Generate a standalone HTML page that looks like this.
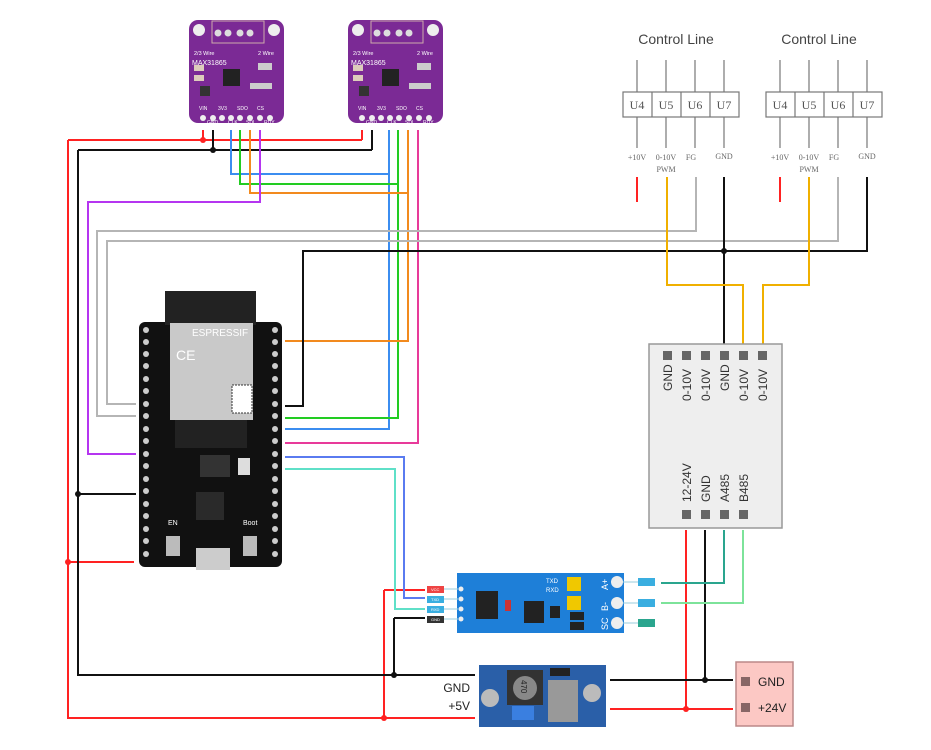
<!DOCTYPE html>
<html><head><meta charset="utf-8"><style>
html,body{margin:0;padding:0;background:#fff;}
svg{display:block;}
text{font-family:"Liberation Sans",sans-serif;}
.serif text{font-family:"Liberation Serif",serif;}
</style></head><body>
<svg width="931" height="750" viewBox="0 0 931 750" xmlns="http://www.w3.org/2000/svg">
<g fill="none" stroke-width="2">
<path d="M203 130V140M362 130V140M68 140H362M68 140V718H475M68 562H134M384 590V718M384 590H425M686 530V709M610 709H733" stroke="#f22"/>
<path d="M213 130V150M372 130V150M78 150H372M78 150V675H475M78 494H136M394 618V675M394 618H425M705 530V680M610 680H733" stroke="#111"/>
<path d="M231 130V174H389M389 130V429H285" stroke="#3b8df0"/>
<path d="M240 130V184H398M398 130V418H285" stroke="#2c2"/>
<path d="M250 130V193H408M408 130V341H285" stroke="#f28a1e"/>
<path d="M418 130V443H285" stroke="#e83a9a"/>
<path d="M260 130V202H88V454H136" stroke="#b535f0"/>
<path d="M696 177V231H97V416H136M838 177V241H107V404H136" stroke="#b5b5b5"/>
<path d="M724 177V344M867 177V251H303V406H285" stroke="#111"/>
<path d="M667 177V285H743V344M809 177V285H763V344" stroke="#f0b000"/>
<path d="M637 177V202M780 177V202" stroke="#f22"/>
<path d="M285 457H404V598H425" stroke="#5a7bf0"/>
<path d="M285 469H395V609H425" stroke="#5fe0c8"/>
<path d="M724 530V583H661" stroke="#2aa58e"/>
<path d="M743 530V603H661" stroke="#7de39a"/>
</g>
<g fill="#111">
<circle cx="203" cy="140" r="3" fill="#f22"/><circle cx="213" cy="150" r="3"/>
<circle cx="68" cy="562" r="3" fill="#f22"/><circle cx="78" cy="494" r="3"/>
<circle cx="394" cy="675" r="3"/><circle cx="384" cy="718" r="3" fill="#f22"/>
<circle cx="705" cy="680" r="3"/><circle cx="686" cy="709" r="3" fill="#f22"/>
<circle cx="724" cy="251" r="3"/>
</g>

<g stroke="#777" stroke-width="1.2" fill="none">
<path d="M637 60V92M666 60V92M695 60V92M724 60V92M637 117V148M666 117V148M695 117V148M724 117V148"/>
<rect x="623" y="92" width="116" height="25" fill="#fff"/>
<path d="M652 92V117M681 92V117M710 92V117"/>
<path d="M780 60V92M809 60V92M838 60V92M867 60V92M780 117V148M809 117V148M838 117V148M867 117V148"/>
<rect x="766" y="92" width="116" height="25" fill="#fff"/>
<path d="M795 92V117M824 92V117M853 92V117"/>
</g>
<g class="serif" fill="#555" font-size="12" text-anchor="middle">
<text x="637" y="109">U4</text><text x="666" y="109">U5</text><text x="695" y="109">U6</text><text x="724" y="109">U7</text>
<text x="780" y="109">U4</text><text x="809" y="109">U5</text><text x="838" y="109">U6</text><text x="867" y="109">U7</text>
</g>
<g class="serif" fill="#666" font-size="8" text-anchor="middle">
<text x="637" y="160">+10V</text><text x="666" y="160">0-10V</text><text x="666" y="172">PWM</text><text x="691" y="160">FG</text><text x="724" y="159">GND</text>
<text x="780" y="160">+10V</text><text x="809" y="160">0-10V</text><text x="809" y="172">PWM</text><text x="834" y="160">FG</text><text x="867" y="159">GND</text>
</g>
<text x="676" y="44" font-size="14" fill="#444" text-anchor="middle">Control Line</text>
<text x="819" y="44" font-size="14" fill="#444" text-anchor="middle">Control Line</text>

<rect x="649" y="344" width="133" height="184" fill="#eee" stroke="#999" stroke-width="1.5"/>
<g fill="#666">
<rect x="682" y="351" width="9" height="9"/><rect x="701" y="351" width="9" height="9"/><rect x="720" y="351" width="9" height="9"/><rect x="739" y="351" width="9" height="9"/><rect x="758" y="351" width="9" height="9"/><rect x="663" y="351" width="9" height="9"/>
<rect x="682" y="510" width="9" height="9"/><rect x="701" y="510" width="9" height="9"/><rect x="720" y="510" width="9" height="9"/><rect x="739" y="510" width="9" height="9"/>
</g>
<g font-size="12" fill="#333">
<text transform="translate(672,391) rotate(-90)">GND</text>
<text transform="translate(691,401) rotate(-90)">0-10V</text>
<text transform="translate(710,401) rotate(-90)">0-10V</text>
<text transform="translate(729,391) rotate(-90)">GND</text>
<text transform="translate(748,401) rotate(-90)">0-10V</text>
<text transform="translate(767,401) rotate(-90)">0-10V</text>
<text transform="translate(691,502) rotate(-90)">12-24V</text>
<text transform="translate(710,502) rotate(-90)">GND</text>
<text transform="translate(729,502) rotate(-90)">A485</text>
<text transform="translate(748,502) rotate(-90)">B485</text>
</g>

<g id="max">
<rect x="189" y="20" width="95" height="103" rx="9" fill="#7b2a95"/>
<rect x="212" y="21" width="52" height="22" fill="none" stroke="#caa" stroke-width="1"/>
<circle cx="199" cy="30" r="6" fill="#eee"/><circle cx="274" cy="30" r="6" fill="#eee"/>
<circle cx="218" cy="33" r="3.5" fill="#ddd"/><circle cx="228" cy="33" r="3.5" fill="#ddd"/><circle cx="240" cy="33" r="3.5" fill="#ddd"/><circle cx="250" cy="33" r="3.5" fill="#ddd"/>
<rect x="223" y="69" width="17" height="17" fill="#222"/>
<rect x="194" y="65" width="10" height="6" fill="#dcb"/><rect x="194" y="75" width="10" height="6" fill="#dcb"/><rect x="200" y="86" width="10" height="10" fill="#333"/>
<rect x="250" y="83" width="22" height="6" fill="#ccc"/><rect x="258" y="63" width="14" height="7" fill="#ccc"/>
<text x="192" y="65" font-size="7" fill="#fff">MAX31865</text>
<text x="194" y="55" font-size="5.5" fill="#fff">2/3 Wire</text><text x="258" y="55" font-size="5.5" fill="#fff">2 Wire</text>
<g fill="#eee"><circle cx="203" cy="118" r="3"/><circle cx="213" cy="118" r="3"/><circle cx="222" cy="118" r="3"/><circle cx="231" cy="118" r="3"/><circle cx="240" cy="118" r="3"/><circle cx="250" cy="118" r="3"/><circle cx="260" cy="118" r="3"/><circle cx="270" cy="118" r="3"/></g>
<g font-size="5" fill="#fff"><text x="199" y="110">VIN</text><text x="218" y="110">3V3</text><text x="237" y="110">SDO</text><text x="257" y="110">CS</text><text x="207" y="124">GND</text><text x="228" y="124">CLK</text><text x="246" y="124">SDI</text><text x="264" y="124">RDY</text></g>
</g>
<use href="#max" x="159"/>

<rect x="139" y="322" width="143" height="245" rx="6" fill="#111"/>
<rect x="165" y="291" width="91" height="34" fill="#222"/>
<rect x="170" y="323" width="83" height="97" fill="#c9c9c9"/>
<rect x="232" y="385" width="20" height="28" fill="#fff" stroke="#333" stroke-dasharray="2 1"/>
<text x="192" y="336" font-size="10" fill="#fff">ESPRESSIF</text>
<text x="176" y="360" font-size="14" fill="#fff">CE</text>
<rect x="175" y="420" width="72" height="28" fill="#222"/>
<g fill="#ccc">
<circle cx="146" cy="330" r="3"/><circle cx="146" cy="342" r="3"/><circle cx="146" cy="354" r="3"/><circle cx="146" cy="366" r="3"/><circle cx="146" cy="379" r="3"/><circle cx="146" cy="391" r="3"/><circle cx="146" cy="404" r="3"/><circle cx="146" cy="416" r="3"/><circle cx="146" cy="429" r="3"/><circle cx="146" cy="441" r="3"/><circle cx="146" cy="454" r="3"/><circle cx="146" cy="466" r="3"/><circle cx="146" cy="479" r="3"/><circle cx="146" cy="491" r="3"/><circle cx="146" cy="504" r="3"/><circle cx="146" cy="516" r="3"/><circle cx="146" cy="529" r="3"/><circle cx="146" cy="541" r="3"/><circle cx="146" cy="554" r="3"/>
<circle cx="275" cy="330" r="3"/><circle cx="275" cy="342" r="3"/><circle cx="275" cy="354" r="3"/><circle cx="275" cy="366" r="3"/><circle cx="275" cy="379" r="3"/><circle cx="275" cy="391" r="3"/><circle cx="275" cy="404" r="3"/><circle cx="275" cy="416" r="3"/><circle cx="275" cy="429" r="3"/><circle cx="275" cy="441" r="3"/><circle cx="275" cy="454" r="3"/><circle cx="275" cy="466" r="3"/><circle cx="275" cy="479" r="3"/><circle cx="275" cy="491" r="3"/><circle cx="275" cy="504" r="3"/><circle cx="275" cy="516" r="3"/><circle cx="275" cy="529" r="3"/><circle cx="275" cy="541" r="3"/><circle cx="275" cy="554" r="3"/>
</g>
<rect x="200" y="455" width="30" height="22" fill="#333"/><rect x="238" y="458" width="12" height="17" fill="#ddd"/>
<rect x="196" y="492" width="28" height="28" fill="#2a2a2a"/>
<rect x="166" y="536" width="14" height="20" fill="#bbb"/><rect x="243" y="536" width="14" height="20" fill="#bbb"/>
<rect x="196" y="548" width="34" height="22" fill="#ccc"/>
<text x="243" y="525" font-size="7" fill="#fff">Boot</text><text x="168" y="525" font-size="7" fill="#fff">EN</text>

<rect x="457" y="573" width="167" height="60" fill="#1e7fd8"/>
<rect x="476" y="591" width="22" height="28" fill="#222"/><rect x="524" y="601" width="20" height="22" fill="#222"/>
<rect x="505" y="600" width="6" height="11" fill="#c33"/>
<rect x="567" y="577" width="14" height="14" fill="#f0c800"/><rect x="567" y="596" width="14" height="14" fill="#f0c800"/>
<rect x="570" y="612" width="14" height="8" fill="#222"/><rect x="570" y="622" width="14" height="8" fill="#222"/><rect x="550" y="606" width="10" height="12" fill="#222"/>
<text x="546" y="583" font-size="6" fill="#fff">TXD</text><text x="546" y="592" font-size="6" fill="#fff">RXD</text>
<g fill="#eee"><circle cx="617" cy="582" r="6"/><circle cx="617" cy="603" r="6"/><circle cx="617" cy="623" r="6"/>
<circle cx="461" cy="589" r="2.5"/><circle cx="461" cy="599" r="2.5"/><circle cx="461" cy="609" r="2.5"/><circle cx="461" cy="619" r="2.5"/></g>
<g font-size="9" fill="#fff"><text transform="translate(608,590) rotate(-90)">A+</text><text transform="translate(608,611) rotate(-90)">B-</text><text transform="translate(608,630) rotate(-90)">SC</text></g>
<path d="M623 582H638M623 603H638M623 623H638M444 589H458M444 599H458M444 609H458M444 619H458" stroke="#9cd" stroke-width="1"/>
<rect x="638" y="578" width="17" height="8" fill="#3aaee0"/><rect x="638" y="599" width="17" height="8" fill="#3aaee0"/><rect x="638" y="619" width="17" height="8" fill="#2aa58e"/>
<rect x="427" y="586" width="17" height="7" fill="#e44"/><rect x="427" y="596" width="17" height="7" fill="#3aaee0"/><rect x="427" y="606" width="17" height="7" fill="#3aaee0"/><rect x="427" y="616" width="17" height="7" fill="#333"/>
<g font-size="4" fill="#fff"><text x="431" y="591">VCC</text><text x="431" y="601">TXD</text><text x="431" y="611">RXD</text><text x="431" y="621">GND</text></g>

<rect x="479" y="665" width="127" height="62" fill="#2a5fa8"/>
<rect x="507" y="670" width="36" height="35" fill="#333"/><circle cx="525" cy="688" r="12" fill="#888"/>
<text transform="translate(521,680) rotate(90)" font-size="8" fill="#222">470</text>
<circle cx="490" cy="698" r="9" fill="#bbb"/><circle cx="592" cy="693" r="9" fill="#bbb"/>
<rect x="548" y="680" width="30" height="42" fill="#999"/><rect x="550" y="668" width="20" height="8" fill="#222"/>
<rect x="512" y="706" width="22" height="14" fill="#3a7fe0"/>
<text x="470" y="692" font-size="12" fill="#222" text-anchor="end">GND</text>
<text x="470" y="710" font-size="12" fill="#222" text-anchor="end">+5V</text>

<rect x="736" y="662" width="57" height="64" fill="#fcc8c4" stroke="#b88" stroke-width="1.5"/>
<rect x="741" y="677" width="9" height="9" fill="#866"/><rect x="741" y="703" width="9" height="9" fill="#866"/>
<text x="758" y="686" font-size="12" fill="#222">GND</text>
<text x="758" y="712" font-size="12" fill="#222">+24V</text>
</svg>
</body></html>
